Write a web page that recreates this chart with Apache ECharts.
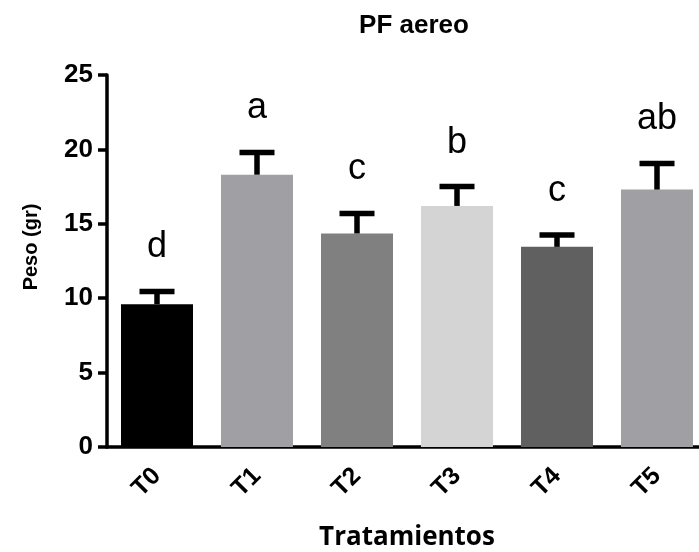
<!DOCTYPE html>
<html>
<head>
<meta charset="utf-8">
<script src="https://cdn.jsdelivr.net/npm/echarts@6/dist/echarts.min.js"></script>
<style>
  html, body { margin: 0; padding: 0; background: #fff; }
  #main { width: 699px; height: 552px; }
</style>
</head>
<body>
<div id="main"></div>
<script>
var categories = ['T0', 'T1', 'T2', 'T3', 'T4', 'T5'];
var means = [9.6, 18.3, 14.35, 16.2, 13.45, 17.3];
var errors = [0.85, 1.5, 1.35, 1.3, 0.8, 1.75];
var letters = ['d', 'a', 'c', 'b', 'c', 'ab'];
var barColors = ['#000000', '#a0a0a4', '#808080', '#d4d4d4', '#606060', '#a0a0a4'];

var myChart = echarts.init(document.getElementById('main'));

var barData = [];
var errData = [];
for (var i = 0; i < categories.length; ++i) {
  barData.push({ value: means[i], itemStyle: { color: barColors[i] } });
  errData.push([i, means[i], means[i] + errors[i], letters[i]]);
}

var option = {
  animation: false,
  backgroundColor: '#fff',
  title: {
    text: 'PF aereo',
    left: 409,
    textAlign: 'center',
    top: 8,
    textStyle: { fontFamily: 'Liberation Sans', fontWeight: 'bold', fontSize: 26, color: '#000' }
  },
  grid: { left: 107, right: -8, top: 75, bottom: 105, outerBoundsMode: 'none' },
  xAxis: {
    type: 'category',
    data: categories,
    name: 'Tratamientos',
    nameLocation: 'middle',
    nameGap: 78,
    nameTextStyle: { fontFamily: 'Open Sans', fontWeight: 'bold', fontSize: 26, color: '#000' },
    axisLine: { lineStyle: { color: '#000', width: 3.5 } },
    axisTick: { alignWithLabel: true, length: 10, lineStyle: { color: '#000', width: 3.5 } },
    axisLabel: {
      rotate: 45, margin: 25, color: '#000',
      fontFamily: 'Liberation Sans', fontWeight: 'bold', fontSize: 25
    }
  },
  yAxis: {
    type: 'value',
    min: 0, max: 25, interval: 5,
    name: 'Peso (gr)',
    nameLocation: 'middle',
    nameGap: 66,
    nameTextStyle: {
      fontFamily: 'Liberation Sans', fontWeight: 'bold', fontSize: 20, color: '#000',
      padding: [0, 0, 0, 28]
    },
    axisLine: { show: true, lineStyle: { color: '#000', width: 3.5 } },
    axisTick: { show: true, length: 9, lineStyle: { color: '#000', width: 3.5 } },
    axisLabel: { margin: 14, color: '#000', fontFamily: 'Liberation Sans', fontWeight: 'bold', fontSize: 26 },
    splitLine: { show: false }
  },
  series: [
    {
      type: 'bar',
      data: barData,
      barWidth: '72%'
    },
    {
      type: 'custom',
      data: errData,
      z: 10,
      renderItem: function(params, api) {
        var base = api.coord([api.value(0), api.value(1)]);
        var top = api.coord([api.value(0), api.value(2)]);
        var half = 17.5;
        var style = { stroke: '#000', lineWidth: 5.5 };
        return {
          type: 'group',
          children: [
            { type: 'line', shape: { x1: base[0], y1: base[1], x2: top[0], y2: top[1] }, style: style },
            { type: 'line', shape: { x1: top[0] - half, y1: top[1], x2: top[0] + half, y2: top[1] }, style: style },
            {
              type: 'text',
              x: top[0], y: top[1] - 44,
              style: {
                text: errData[params.dataIndex][3],
                align: 'center', verticalAlign: 'middle',
                fontFamily: 'Liberation Sans', fontSize: 36, fill: '#000'
              }
            }
          ]
        };
      }
    }
  ]
};
myChart.setOption(option);
</script>
</body>
</html>
